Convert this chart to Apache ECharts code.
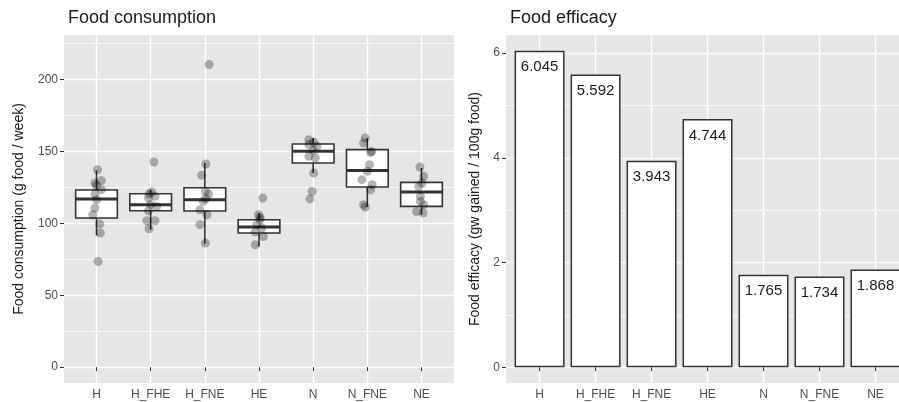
<!DOCTYPE html>
<html>
<head>
<meta charset="utf-8">
<script src="https://cdn.jsdelivr.net/npm/echarts@6/dist/echarts.min.js"></script>
<style>
html, body { margin: 0; padding: 0; background: #fff; }
#main { width: 899px; height: 402px; }
</style>
</head>
<body>
<div id="main"></div>
<script>
// groups on both x axes
var groups = ['H', 'H_FHE', 'H_FNE', 'HE', 'N', 'N_FNE', 'NE'];

// boxplot stats: [lower whisker, Q1, median, Q3, upper whisker]
var boxStats = [
    [91.6, 103.7, 116.9, 123.2, 136.9],
    [95.6, 108.8, 113.0, 120.6, 123.4],
    [85.8, 108.6, 116.5, 124.8, 142.0],
    [84.0, 93.3, 97.5, 102.5, 107.2],
    [135.0, 142.0, 150.1, 155.2, 159.4],
    [111.4, 125.3, 136.7, 151.3, 159.4],
    [106.0, 111.8, 121.8, 128.5, 138.5]
];

// jittered points: [x offset from group, g food / week]
var pointsH = [[0.02, 137.3], [0.09, 129.7], [-0.03, 128.0], [0, 126.4], [0.09, 123.4], [-0.03, 120.4],
    [0, 116.5], [-0.03, 110.7], [-0.07, 106.0], [0.06, 99.5], [0.07, 93.3], [0.03, 73.5]];
var pointsH_FHE = [[0.06, 142.7], [0.02, 121.8], [-0.03, 120.5], [0.08, 118.8], [-0.04, 117.6], [0, 113.0],
    [0.11, 111.8], [-0.04, 108.8], [-0.07, 101.8], [0.08, 101.8], [-0.03, 96.3]];
var pointsH_FNE = [[0.08, 210.4], [0.02, 141.3], [-0.06, 133.4], [0.01, 122.2], [0.07, 120.4], [0.02, 117.2],
    [-0.03, 115.3], [-0.09, 109.5], [0.04, 106.0], [-0.09, 99.1], [0.01, 86.3]];
var pointsHE = [[0.07, 117.6], [-0.01, 106.0], [0.02, 104.1], [0.02, 102.5], [-0.04, 99.1], [0.05, 96.8],
    [-0.07, 94.0], [0.08, 90.9], [-0.07, 85.1]];
var pointsN = [[-0.08, 158.2], [0.01, 156.4], [-0.08, 154.8], [0.07, 153.6], [0, 150.8], [-0.08, 146.6],
    [0.04, 145.5], [0.01, 135.0], [-0.02, 122.2], [-0.06, 117.0]];
var pointsN_FNE = [[-0.04, 159.4], [-0.07, 155.9], [0.08, 150.0], [0.06, 149.4], [0.04, 140.8], [0, 136.2],
    [-0.1, 130.4], [0.09, 126.9], [0.06, 123.4], [-0.07, 113.0], [-0.04, 111.4]];
var pointsNE = [[-0.03, 139.2], [0.04, 132.7], [0.01, 128.1], [-0.05, 125.7], [-0.02, 118.8], [-0.02, 115.3],
    [0.04, 113.0], [-0.09, 108.3], [0.03, 107.2]];
var jitterSets = [pointsH, pointsH_FHE, pointsH_FNE, pointsHE, pointsN, pointsN_FNE, pointsNE];

// food efficacy (gw gained / 100g food)
var efficacy = [6.045, 5.592, 3.943, 4.744, 1.765, 1.734, 1.868];

// tick labels
var consumptionTicks = [0, 50, 100, 150, 200];
var consumptionMinor = [25, 75, 125, 175, 225];
var efficacyTicks = [0, 2, 4, 6];
var efficacyMinor = [1, 3, 5];

var groupPos = groups.map(function (g, i) { return i + 1; });
var FONT = '"Liberation Sans", Arial, sans-serif';

var myChart = echarts.init(document.getElementById('main'));

function renderBox(params, api) {
    var x = api.value(0);
    var half = api.size([0.77, 0])[0] / 2;
    var lo = api.coord([x, api.value(1)]);
    var q1 = api.coord([x, api.value(2)]);
    var md = api.coord([x, api.value(3)]);
    var q3 = api.coord([x, api.value(4)]);
    var hi = api.coord([x, api.value(5)]);
    var line = { stroke: '#333', lineWidth: 1.6 };
    return {
        type: 'group',
        children: [
            { type: 'line', shape: { x1: hi[0], y1: hi[1], x2: q3[0], y2: q3[1] }, style: line },
            { type: 'line', shape: { x1: q1[0], y1: q1[1], x2: lo[0], y2: lo[1] }, style: line },
            { type: 'rect', shape: { x: q3[0] - half, y: q3[1], width: half * 2, height: q1[1] - q3[1] },
              style: { fill: '#fff', stroke: '#333', lineWidth: 1.6 } },
            { type: 'line', shape: { x1: md[0] - half, y1: md[1], x2: md[0] + half, y2: md[1] },
              style: { stroke: '#333', lineWidth: 3 } }
        ]
    };
}

function groupAxis(idx, max) {
    return {
        gridIndex: idx,
        type: 'value',
        min: 0.4,
        max: max,
        axisLine: { show: false },
        axisTick: { show: true, customValues: groupPos, length: 4, lineStyle: { color: '#333' } },
        axisLabel: {
            customValues: groupPos, color: '#4d4d4d', fontSize: 12, margin: 6, fontFamily: FONT,
            formatter: function (v) { return groups[Math.round(v) - 1]; }
        },
        splitLine: { show: true, lineStyle: { color: '#fff', width: 1.4 } }
    };
}

function valueAxis(idx, min, max, ticks, name, gap) {
    return {
        gridIndex: idx,
        type: 'value',
        position: 'left',
        min: min,
        max: max,
        name: name,
        nameLocation: 'middle',
        nameGap: gap,
        nameTextStyle: { fontSize: 14, color: '#1a1a1a', fontFamily: FONT },
        axisLine: { show: false },
        axisTick: { show: true, customValues: ticks, length: 4, lineStyle: { color: '#333' } },
        axisLabel: { customValues: ticks, color: '#4d4d4d', fontSize: 12, margin: 6, fontFamily: FONT },
        splitLine: { show: true, lineStyle: { color: '#fff', width: 1.4 } }
    };
}

function minorAxis(idx, min, max, ticks) {
    return {
        gridIndex: idx,
        type: 'value',
        position: 'left',
        min: min,
        max: max,
        axisLine: { show: false },
        axisTick: { show: false, customValues: ticks },
        axisLabel: { show: false, customValues: ticks },
        splitLine: { show: true, lineStyle: { color: '#fff', width: 0.7 } }
    };
}

var scatterData = [];
jitterSets.forEach(function (pts, i) {
    pts.forEach(function (p) { scatterData.push([i + 1 + p[0], p[1]]); });
});

var option = {
    animation: false,
    textStyle: { fontFamily: FONT },
    title: [
        { text: 'Food consumption', left: 63, top: 4,
          textStyle: { fontSize: 18, fontWeight: 'normal', color: '#1a1a1a', fontFamily: FONT } },
        { text: 'Food efficacy', left: 505, top: 4,
          textStyle: { fontSize: 18, fontWeight: 'normal', color: '#1a1a1a', fontFamily: FONT } }
    ],
    grid: [
        { left: 64, top: 35, width: 390, height: 348, show: true, backgroundColor: '#e6e6e6', borderWidth: 0 },
        // right panel is cut off by the image edge
        { left: 506, top: 35, right: 0, height: 348, show: true, backgroundColor: '#e6e6e6', borderWidth: 0 }
    ],
    xAxis: [groupAxis(0, 7.6), groupAxis(1, 7.42)],
    yAxis: [
        valueAxis(0, -11, 231, consumptionTicks, 'Food consumption (g food / week)', 38),
        minorAxis(0, -11, 231, consumptionMinor),
        valueAxis(1, -0.302, 6.347, efficacyTicks, 'Food efficacy (gw gained / 100g food)', 24),
        minorAxis(1, -0.302, 6.347, efficacyMinor)
    ],
    series: [
        {
            type: 'custom',
            xAxisIndex: 0,
            yAxisIndex: 0,
            renderItem: renderBox,
            encode: { x: 0, y: [1, 2, 3, 4, 5] },
            data: boxStats.map(function (b, i) { return [i + 1].concat(b); }),
            z: 2
        },
        {
            type: 'scatter',
            xAxisIndex: 0,
            yAxisIndex: 0,
            symbolSize: 9,
            itemStyle: { color: 'rgba(0,0,0,0.36)' },
            data: scatterData,
            z: 3
        },
        {
            type: 'bar',
            xAxisIndex: 1,
            yAxisIndex: 2,
            barWidth: 50,
            itemStyle: { color: '#fff', borderColor: '#333', borderWidth: 1.5 },
            label: {
                show: true,
                position: 'insideTop',
                distance: 9,
                fontSize: 15,
                color: '#1a1a1a',
                fontFamily: FONT,
                formatter: function (p) { return p.value[1].toFixed(3); }
            },
            data: efficacy.map(function (v, i) { return [i + 1, v]; })
        }
    ]
};

myChart.setOption(option);
</script>
</body>
</html>
